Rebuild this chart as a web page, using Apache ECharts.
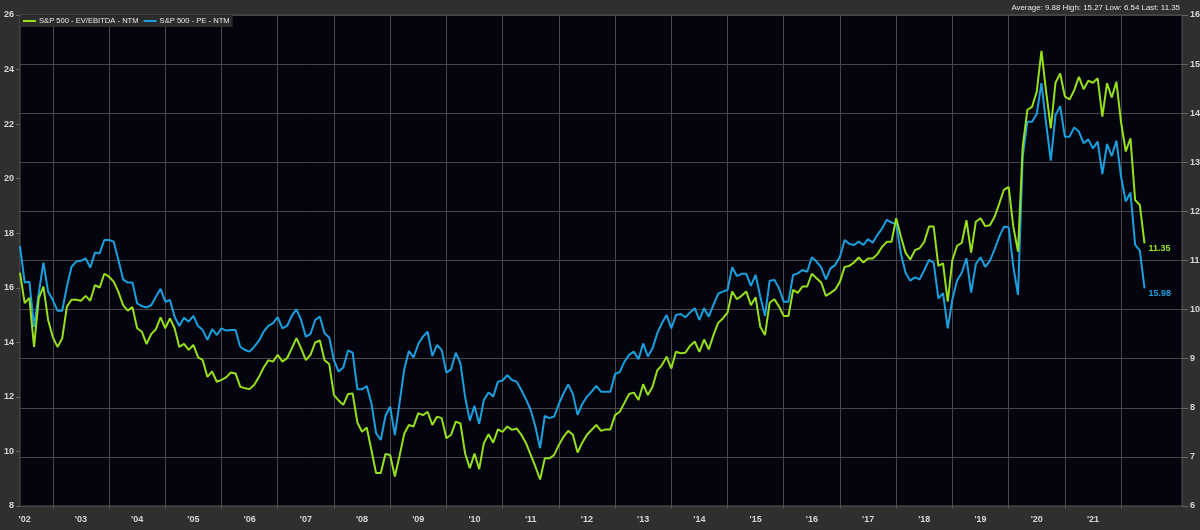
<!DOCTYPE html>
<html>
<head>
<meta charset="utf-8">
<title>S&P 500 EV/EBITDA vs PE - NTM</title>
<script src="https://cdn.jsdelivr.net/npm/echarts@6/dist/echarts.min.js"></script>
<style>
html, body { margin: 0; padding: 0; background: #2f2f2f; }
#chart { width: 1200px; height: 530px; }
</style>
</head>
<body>
<div id="chart"></div>
<script>
// monthly points, June 2002 -> June 2022
let startYear = 2002;
let startMonth = 6;
let monthsOnAxis = 249; // axis runs on to Feb 2023
let lastLabelYear = 2021;
let lastGridYear = 2022;

let seriesNames = ['S&P 500 - EV/EBITDA - NTM', 'S&P 500 - PE - NTM'];
let seriesColors = ['#97e01c', '#1a9fdf'];

// EV/EBITDA, right axis
let evEbitda = [
    10.75, 10.13, 10.24, 9.24, 10.23, 10.47, 9.79, 9.44, 9.24, 9.41,
    10.06, 10.20, 10.20, 10.18, 10.28, 10.18, 10.50, 10.45, 10.73, 10.67,
    10.57, 10.36, 10.09, 9.98, 10.05, 9.62, 9.55, 9.30, 9.50, 9.60,
    9.84, 9.62, 9.82, 9.62, 9.24, 9.30, 9.18, 9.28, 9.03, 8.97,
    8.63, 8.74, 8.53, 8.57, 8.62, 8.72, 8.70, 8.43, 8.40, 8.38,
    8.47, 8.63, 8.82, 8.97, 8.94, 9.08, 8.94, 9.01, 9.21, 9.42,
    9.21, 8.97, 9.08, 9.33, 9.37, 8.97, 8.89, 8.26, 8.15, 8.06,
    8.28, 8.29, 7.70, 7.51, 7.60, 7.14, 6.67, 6.67, 7.06, 7.04,
    6.60, 7.02, 7.47, 7.65, 7.62, 7.89, 7.85, 7.92, 7.65, 7.82,
    7.79, 7.38, 7.45, 7.72, 7.68, 7.07, 6.77, 7.07, 6.75, 7.28,
    7.46, 7.29, 7.56, 7.51, 7.62, 7.55, 7.58, 7.45, 7.28, 7.04,
    6.80, 6.54, 6.97, 6.97, 7.04, 7.24, 7.41, 7.53, 7.45, 7.09,
    7.29, 7.45, 7.55, 7.65, 7.53, 7.56, 7.56, 7.85, 7.92, 8.10,
    8.28, 8.31, 8.16, 8.48, 8.26, 8.43, 8.76, 8.87, 9.04, 8.80,
    9.14, 9.11, 9.12, 9.26, 9.35, 9.14, 9.39, 9.19, 9.48, 9.73,
    9.82, 9.94, 10.37, 10.21, 10.28, 10.37, 10.09, 10.25, 9.65, 9.48,
    10.14, 10.21, 10.06, 9.87, 9.87, 10.40, 10.34, 10.47, 10.47, 10.73,
    10.64, 10.55, 10.28, 10.34, 10.41, 10.57, 10.87, 10.89, 10.96, 11.06,
    10.96, 11.04, 11.04, 11.13, 11.28, 11.38, 11.38, 11.86, 11.49, 11.16,
    11.02, 11.21, 11.25, 11.38, 11.69, 11.69, 10.89, 10.94, 10.16, 11.01,
    11.30, 11.36, 11.82, 11.16, 11.79, 11.86, 11.70, 11.72, 11.89, 12.16,
    12.44, 12.50, 11.69, 11.18, 13.32, 14.07, 14.13, 14.44, 15.27, 14.44,
    13.69, 14.62, 14.81, 14.34, 14.28, 14.47, 14.74, 14.49, 14.66, 14.62,
    14.71, 13.93, 14.61, 14.32, 14.64, 13.81, 13.22, 13.49, 12.23, 12.13,
    11.35
];

// PE, left axis
let pe = [
    17.53, 16.19, 16.22, 14.57, 15.80, 16.92, 15.86, 15.55, 15.16, 15.16,
    16.04, 16.77, 16.96, 16.99, 17.08, 16.74, 17.29, 17.26, 17.75, 17.75,
    17.69, 17.02, 16.31, 16.19, 16.19, 15.43, 15.33, 15.28, 15.36, 15.67,
    15.96, 15.49, 15.55, 14.94, 14.60, 14.90, 14.76, 14.97, 14.60, 14.45,
    14.09, 14.48, 14.27, 14.51, 14.43, 14.45, 14.45, 13.84, 13.72, 13.66,
    13.84, 14.06, 14.39, 14.60, 14.70, 14.92, 14.51, 14.60, 14.97, 15.21,
    14.82, 14.21, 14.31, 14.82, 14.94, 14.33, 14.18, 13.35, 12.93, 13.08,
    13.70, 13.62, 12.28, 12.28, 12.40, 11.77, 10.67, 10.42, 11.30, 11.64,
    10.60, 11.77, 13.01, 13.68, 13.45, 13.94, 14.21, 14.39, 13.50, 13.90,
    13.72, 12.89, 13.01, 13.62, 13.23, 11.99, 11.13, 11.67, 11.01, 11.89,
    12.16, 12.01, 12.56, 12.60, 12.80, 12.62, 12.56, 12.25, 11.91, 11.52,
    10.91, 10.12, 11.30, 11.22, 11.28, 11.74, 12.13, 12.46, 12.11, 11.34,
    11.74, 12.01, 12.19, 12.40, 12.19, 12.19, 12.19, 12.84, 12.91, 13.29,
    13.54, 13.66, 13.38, 13.96, 13.48, 13.78, 14.33, 14.70, 15.00, 14.51,
    15.00, 15.04, 14.92, 15.09, 15.25, 14.82, 15.25, 14.94, 15.37, 15.78,
    15.86, 15.92, 16.75, 16.43, 16.51, 16.51, 16.07, 16.47, 15.67, 14.97,
    16.26, 16.29, 15.98, 15.49, 15.49, 16.47, 16.53, 16.65, 16.59, 17.12,
    16.96, 16.75, 16.31, 16.71, 16.84, 17.14, 17.75, 17.61, 17.57, 17.69,
    17.57, 17.78, 17.65, 17.94, 18.18, 18.49, 18.39, 18.34, 17.26, 16.55,
    16.26, 16.38, 16.31, 16.65, 17.02, 16.92, 15.61, 15.80, 14.51, 15.58,
    16.27, 16.55, 17.08, 15.82, 16.87, 17.12, 16.77, 16.99, 17.41, 17.87,
    18.24, 18.22, 16.77, 15.74, 20.81, 22.09, 22.09, 22.37, 23.50, 22.03,
    20.66, 22.33, 22.66, 21.54, 21.54, 21.88, 21.72, 21.30, 21.44, 21.11,
    21.36, 20.17, 21.27, 20.83, 21.39, 20.07, 19.16, 19.49, 17.57, 17.36,
    15.98
];

// stats line shown top right
let statNames = ['Average', 'High', 'Low', 'Last'];
let statValues = ['9.88', '15.27', '6.54', '11.35'];

let peAxis = { min: 8, max: 26, interval: 2 };
let evAxis = { min: 6, max: 16, interval: 1 };

// month categories 'YYYY-MM'
let months = [];
for (let i = 0; i < monthsOnAxis; i++) {
    let m = startMonth - 1 + i;
    let y = startYear + Math.floor(m / 12);
    let mm = (m % 12) + 1;
    months.push(y + '-' + (mm < 10 ? '0' + mm : mm));
}

function isJanuary(idx, val) {
    return val.slice(5) === '01' && +val.slice(0, 4) <= lastGridYear;
}
function isJuly(idx, val) {
    return val.slice(5) === '07' && +val.slice(0, 4) <= lastLabelYear;
}

let fontName = 'Liberation Sans, Arial, sans-serif';

let labelFont = {
    color: '#d6d6d6',
    fontSize: 9,
    fontWeight: 'bold',
    fontFamily: fontName
};

let statText = statNames.map((n, i) => n + ': ' + statValues[i]).join(' ');

let option = {
    animation: false,
    backgroundColor: '#2f2f2f',
    title: {
        text: statText,
        right: 20,
        top: 4,
        padding: 0,
        textStyle: {
            color: '#e6e6e6',
            fontSize: 7.9,
            fontWeight: 'normal',
            fontFamily: fontName
        }
    },
    legend: {
        left: 20,
        top: 15,
        padding: [2, 3],
        itemGap: 5,
        itemWidth: 13,
        itemHeight: 2,
        icon: 'rect',
        backgroundColor: '#2c2c2c',
        data: seriesNames,
        textStyle: {
            color: '#e8e8e8',
            fontSize: 7.6,
            padding: [0, 0, 0, -2],
            fontFamily: fontName
        }
    },
    grid: {
        left: 20,
        right: 18,
        top: 15,
        bottom: 24,
        show: true,
        backgroundColor: '#03040d',
        borderColor: '#555555',
        borderWidth: 1,
        outerBoundsMode: 'none'
    },
    xAxis: {
        type: 'category',
        data: months,
        boundaryGap: false,
        axisLine: { show: false },
        axisTick: {
            show: true,
            length: 3,
            interval: isJanuary,
            lineStyle: { color: '#555555' }
        },
        splitLine: {
            show: true,
            interval: isJanuary,
            lineStyle: { color: '#464646', width: 1 }
        },
        axisLabel: Object.assign({
            interval: isJuly,
            margin: 9,
            formatter: v => "'" + v.slice(2, 4)
        }, labelFont)
    },
    yAxis: [{
        type: 'value',
        position: 'left',
        min: peAxis.min,
        max: peAxis.max,
        interval: peAxis.interval,
        splitLine: { show: false },
        axisLine: { show: false },
        axisTick: { show: true, length: 4, lineStyle: { color: '#666666' } },
        axisLabel: Object.assign({ margin: 6 }, labelFont)
    }, {
        type: 'value',
        position: 'right',
        min: evAxis.min,
        max: evAxis.max,
        interval: evAxis.interval,
        splitLine: { show: true, lineStyle: { color: '#464646', width: 1 } },
        axisLine: { show: false },
        axisTick: { show: true, length: 6, lineStyle: { color: '#666666' } },
        axisLabel: Object.assign({ margin: 8 }, labelFont)
    }],
    series: [{
        name: seriesNames[1],
        type: 'line',
        yAxisIndex: 0,
        data: pe,
        showSymbol: false,
        z: 2,
        color: seriesColors[1],
        lineStyle: { color: seriesColors[1], width: 2 },
        endLabel: {
            show: true,
            formatter: p => p.value.toFixed(2),
            color: seriesColors[1],
            fontSize: 9,
            fontWeight: 'bold',
            fontFamily: fontName,
            distance: 4,
            offset: [0, 5]
        }
    }, {
        name: seriesNames[0],
        type: 'line',
        yAxisIndex: 1,
        data: evEbitda,
        showSymbol: false,
        z: 3,
        color: seriesColors[0],
        lineStyle: { color: seriesColors[0], width: 2 },
        endLabel: {
            show: true,
            formatter: p => p.value.toFixed(2),
            color: seriesColors[0],
            fontSize: 9,
            fontWeight: 'bold',
            fontFamily: fontName,
            distance: 4,
            offset: [0, 5]
        }
    }]
};

let myChart = echarts.init(document.getElementById('chart'));
myChart.setOption(option);
</script>
</body>
</html>
